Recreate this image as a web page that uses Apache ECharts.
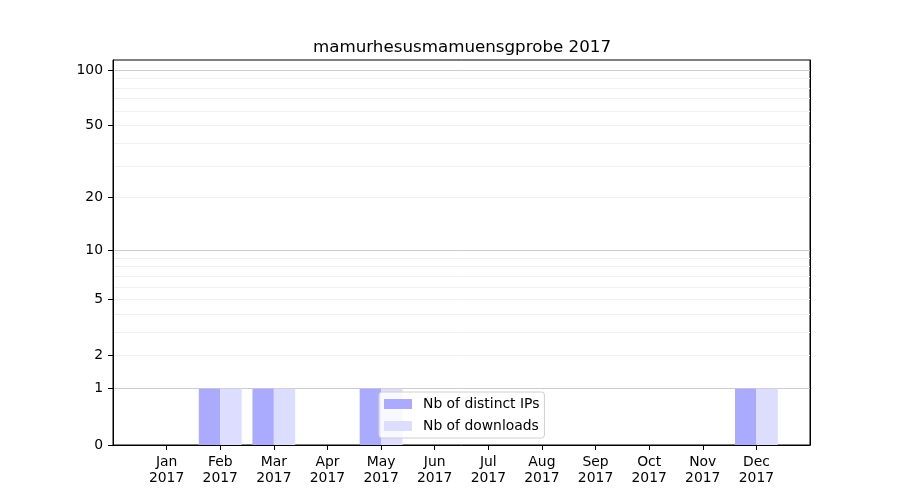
<!DOCTYPE html>
<html><head><meta charset="utf-8">
<script src="https://cdn.jsdelivr.net/npm/echarts@6/dist/echarts.min.js"></script>
<style>html,body{margin:0;padding:0;background:#fff}#c{width:900px;height:500px}</style>
</head><body><div id="c"></div>
<script>
var title = 'mamurhesusmamuensgprobe 2017';
var months = ['Jan 2017','Feb 2017','Mar 2017','Apr 2017','May 2017','Jun 2017','Jul 2017','Aug 2017','Sep 2017','Oct 2017','Nov 2017','Dec 2017'];
var distinctIPs = [0,1,1,0,1,0,0,0,0,0,0,1];
var downloads   = [0,1,1,0,1,0,0,0,0,0,0,1];
var yTicks = [0,1,2,5,10,20,50,100];
var majorGrid = [1,10,100];
var minorGrid = [2,3,4,5,6,7,8,9,20,30,40,50,60,70,80,90];
var yTop = 113.3;

function tf(v){ return Math.log10(1+v); }
function inv(t){ return Math.round(Math.pow(10,t)-1); }

var cats = [''].concat(months).concat(['']);
function pad(arr){ return [null].concat(arr.map(tf)).concat([null]); }

function gridAxis(vals, color){
  return {type:'value', min:0, max:tf(yTop), position:'left', z:0,
    axisLine:{show:false}, axisLabel:{show:false},
    axisTick:{show:false, customValues:vals.map(tf)},
    splitLine:{show:true, lineStyle:{color:color, width:1}}};
}

var font = 'DejaVu Sans';
var chart = echarts.init(document.getElementById('c'), null, {renderer:'canvas'});
chart.setOption({
  animation:false,
  backgroundColor:'#fff',
  title:{text:title, left:457, textAlign:'center', top:34,
    textStyle:{fontFamily:font, fontSize:16.7, fontWeight:'normal', color:'#000'}},
  grid:{left:113, right:90, top:60, bottom:55, show:true, borderColor:'#000', borderWidth:1, backgroundColor:'transparent'},
  legend:{orient:'vertical', left:379, top:392, itemWidth:28, itemHeight:10, itemGap:8,
    padding:[5,5,5,5], backgroundColor:'rgba(255,255,255,0.8)', borderColor:'#d0d0d0', borderWidth:1, borderRadius:3,
    textStyle:{fontFamily:font, fontSize:13.9, color:'#000', padding:[0,0,0,6]},
    data:[{name:'Nb of distinct IPs', icon:'rect'},{name:'Nb of downloads', icon:'rect'}]},
  xAxis:{type:'category', data:cats, boundaryGap:false, z:5,
    axisLine:{show:true, lineStyle:{color:'#000'}},
    axisTick:{show:true, length:5, lineStyle:{color:'#000'}, interval:function(i,v){return v!=='';}},
    axisLabel:{interval:function(i,v){return v!=='';}, formatter:function(v){return v.replace(' ','\n');},
      fontFamily:font, fontSize:13.9, color:'#000', lineHeight:16, margin:9},
    splitLine:{show:false}},
  yAxis:[
    {type:'value', min:0, max:tf(yTop), z:5, position:'left',
      axisLine:{show:true, lineStyle:{color:'#000'}},
      axisTick:{show:true, length:5, lineStyle:{color:'#000'}, customValues:yTicks.map(tf)},
      axisLabel:{customValues:yTicks.map(tf), formatter:function(v){return String(inv(v));},
        fontFamily:font, fontSize:13.9, color:'#000', margin:10},
      splitLine:{show:false}},
    gridAxis(minorGrid, '#efefef'),
    gridAxis(majorGrid, '#cccccc'),
    {type:'value', min:0, max:tf(yTop), z:5, position:'right',
      axisLine:{show:true, onZero:false, lineStyle:{color:'#000'}},
      axisTick:{show:false}, axisLabel:{show:false}, splitLine:{show:false}}
  ],
  series:[
    {name:'Nb of distinct IPs', type:'bar', data:pad(distinctIPs), barWidth:21.4, barGap:'0%', z:2,
      itemStyle:{color:'#aaaaff'}},
    {name:'Nb of downloads', type:'bar', data:pad(downloads), barWidth:21.4, barGap:'0%', z:2,
      itemStyle:{color:'#ddddff'}}
  ]
});
</script></body></html>
